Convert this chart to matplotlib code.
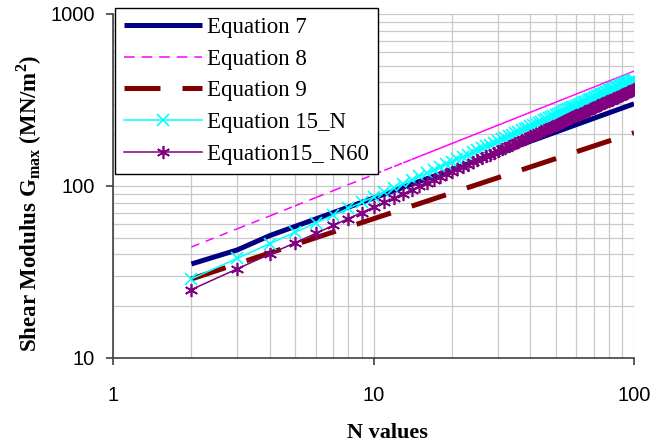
import matplotlib
matplotlib.use("Agg")
import matplotlib.pyplot as plt
from matplotlib.collections import LineCollection
from matplotlib.ticker import LogLocator, NullFormatter, FixedLocator, FixedFormatter
import numpy as np

# N values (every integer from 2 to 100)
n_all = list(range(2, 101))
# sparser N for the unmarked solid/long-dash series
n_sub = [2, 3, 4, 5, 6, 7, 8, 9, 10, 15, 20, 30, 40, 50, 60, 70, 80, 90, 100]

eq7 = [35.2, 42.5, 51.5, 58.2, 64.3, 70.0, 75.3, 80.3, 85.1, 106.3, 124.5,
       155.4, 181.9, 205.6, 227.3, 247.3, 266.1, 283.7, 300.5]
eq9 = [28.8, 35.3, 40.8, 45.6, 50.0, 54.0, 57.7, 61.2, 64.5, 79.0, 91.2,
       111.7, 129.0, 144.2, 158.0, 170.7, 182.5, 193.5, 204.0]

eq8 = [44.2, 56.4, 67.0, 76.7, 85.6, 93.9, 101.8, 109.2, 116.4, 123.3,
       129.9, 136.3, 142.5, 148.6, 154.5, 160.2, 165.8, 171.3, 176.7, 181.9,
       187.1, 192.1, 197.2, 202.0, 206.9, 211.6, 216.3, 221.0, 225.5, 230.0,
       234.4, 238.8, 243.2, 247.4, 251.7, 255.9, 260.0, 264.1, 268.2, 272.1,
       276.1, 280.1, 284.0, 287.8, 291.6, 295.4, 299.1, 302.9, 306.7, 310.5,
       314.0, 317.5, 321.3, 324.8, 328.2, 331.7, 335.2, 338.7, 342.2, 345.7,
       348.9, 352.4, 355.6, 359.1, 362.3, 365.8, 369.0, 372.2, 375.4, 378.9,
       382.1, 385.0, 388.2, 391.4, 394.6, 397.8, 400.7, 403.9, 406.8, 410.0,
       412.9, 416.1, 419.0, 422.0, 424.9, 428.1, 431.0, 433.9, 436.8, 439.7,
       442.6, 445.5, 448.4, 451.3, 454.3, 457.2, 459.8, 462.7, 465.6]

eq15_n = [28.8, 38.0, 46.2, 53.8, 60.9, 67.7, 74.1, 80.3, 86.3, 92.1,
          97.7, 103.2, 108.6, 113.8, 118.9, 123.9, 128.9, 133.7, 138.5, 143.2,
          147.8, 152.3, 156.8, 161.3, 165.6, 169.9, 174.2, 178.4, 182.6, 186.7,
          190.8, 194.9, 198.9, 202.9, 206.8, 210.7, 214.5, 218.4, 222.2, 225.9,
          229.6, 233.4, 237.1, 240.7, 244.3, 247.9, 251.5, 255.1, 258.6, 262.1,
          265.6, 269.2, 272.6, 276.1, 279.5, 282.9, 286.3, 289.7, 293.0, 296.3,
          299.6, 302.8, 306.1, 309.3, 312.5, 315.8, 319.0, 322.2, 325.4, 328.6,
          331.7, 334.9, 338.0, 341.1, 344.2, 347.2, 350.3, 353.4, 356.4, 359.4,
          362.4, 365.4, 368.4, 371.5, 374.4, 377.3, 380.3, 383.3, 386.2, 389.1,
          392.0, 394.9, 397.8, 400.7, 403.5, 406.5, 409.3, 412.1, 415.0]

eq15_n60 = [25.0, 33.0, 40.2, 46.8, 53.0, 59.0, 64.6, 70.0, 75.3, 80.4,
            85.3, 90.1, 94.8, 99.4, 103.9, 108.3, 112.6, 116.9, 121.1, 125.2,
            129.2, 133.2, 137.1, 141.1, 144.9, 148.6, 152.4, 156.1, 159.8, 163.4,
            167.0, 170.6, 174.1, 177.7, 181.1, 184.5, 187.9, 191.3, 194.6, 197.9,
            201.1, 204.5, 207.7, 210.9, 214.1, 217.2, 220.4, 223.6, 226.7, 229.7,
            232.8, 236.0, 239.0, 242.1, 245.0, 248.0, 251.0, 254.0, 257.0, 259.9,
            262.7, 265.6, 268.5, 271.3, 274.1, 277.0, 279.9, 282.7, 285.5, 288.3,
            291.0, 293.9, 296.6, 299.3, 302.1, 304.7, 307.4, 310.2, 312.8, 315.4,
            318.1, 320.7, 323.4, 326.1, 328.7, 331.2, 333.9, 336.5, 339.1, 341.6,
            344.2, 346.8, 349.3, 351.9, 354.4, 357.0, 359.5, 361.9, 364.5]

serif = "Liberation Serif"
sans = "Liberation Sans"

fig = plt.figure(figsize=(6.7, 4.44), dpi=100)
ax = fig.add_axes([0.1687, 0.1937, 0.7776, 0.7748])

ax.plot(n_sub, eq7, color="#000080", lw=3.6, solid_capstyle="butt",
        label="Equation 7", zorder=3)

# Eq 8: dash pattern restarts on every segment (as in the source chart)
segs = [[(n_all[i], eq8[i]), (n_all[i + 1], eq8[i + 1])] for i in range(len(n_all) - 1)]
lc = LineCollection(segs, colors="#FF00FF", linewidths=1.1,
                    linestyles=[(0, (5.5, 4.5))], zorder=3)
ax.add_collection(lc)
ax.plot([], [], color="#FF00FF", lw=1.1, ls=(0, (7, 4.5)), label="Equation 8")

ax.plot(n_sub, eq9, color="#800000", lw=3.6, ls=(0, (7.2, 4.4)),
        dash_capstyle="butt", label="Equation 9", zorder=3)
ax.plot(n_all, eq15_n, color="#00FFFF", lw=1.1, marker="x", ms=8, mew=1.2,
        label="Equation 15_N", zorder=3)
ax.plot(n_all, eq15_n60, color="#800080", lw=1.1, marker=(6, 2, 0), ms=9.5,
        mew=1.2, label="Equation15_ N60", zorder=3)

ax.set_xscale("log")
ax.set_yscale("log")
ax.set_xlim(1, 100)
ax.set_ylim(10, 1000)

ax.grid(True, which="both", color="#c8c8c8", lw=0.9)
ax.set_axisbelow(True)
for s in ["top", "right"]:
    ax.spines[s].set_visible(False)
for s in ["left", "bottom"]:
    ax.spines[s].set_color("#404040")
    ax.spines[s].set_linewidth(1.2)

ax.xaxis.set_major_locator(FixedLocator([1, 10, 100]))
ax.xaxis.set_major_formatter(FixedFormatter(["1", "10", "100"]))
ax.yaxis.set_major_locator(FixedLocator([10, 100, 1000]))
ax.yaxis.set_major_formatter(FixedFormatter(["10", "100", "1000"]))
ax.xaxis.set_minor_locator(LogLocator(base=10, subs=np.arange(2, 10)))
ax.yaxis.set_minor_locator(LogLocator(base=10, subs=np.arange(2, 10)))
ax.xaxis.set_minor_formatter(NullFormatter())
ax.yaxis.set_minor_formatter(NullFormatter())
ax.tick_params(which="major", direction="out", length=5, width=1.2, color="#404040",
               labelsize=14.5, pad=8)
ax.tick_params(axis="x", which="major", pad=15)
ax.tick_params(which="minor", length=0)
for lab in ax.get_xticklabels() + ax.get_yticklabels():
    lab.set_fontfamily(sans)

ax.set_xlabel("N values", fontfamily=serif, fontweight="bold", fontsize=16)
ax.set_ylabel(r"Shear Modulus G$_{\mathregular{max}}$ (MN/m$^{\mathregular{2}}$)",
              fontfamily=serif, fontweight="bold", fontsize=16.5)
ax.xaxis.set_label_coords(0.526, -0.19)
ax.yaxis.set_label_coords(-0.133, 0.45)
ax.yaxis.label.set_va("bottom")

leg = ax.legend(loc="upper left", bbox_to_anchor=(115 / 670, 1 - 8 / 444),
                bbox_transform=fig.transFigure, borderaxespad=0, fancybox=False,
                framealpha=1, edgecolor="black", numpoints=1,
                prop={"family": serif, "size": 16.5}, handlelength=3.4,
                handletextpad=0.2, labelspacing=0.46, borderpad=0.4)
leg.get_frame().set_linewidth(1.0)
leg.set_zorder(10)

fig.savefig("out.png", dpi=100)
